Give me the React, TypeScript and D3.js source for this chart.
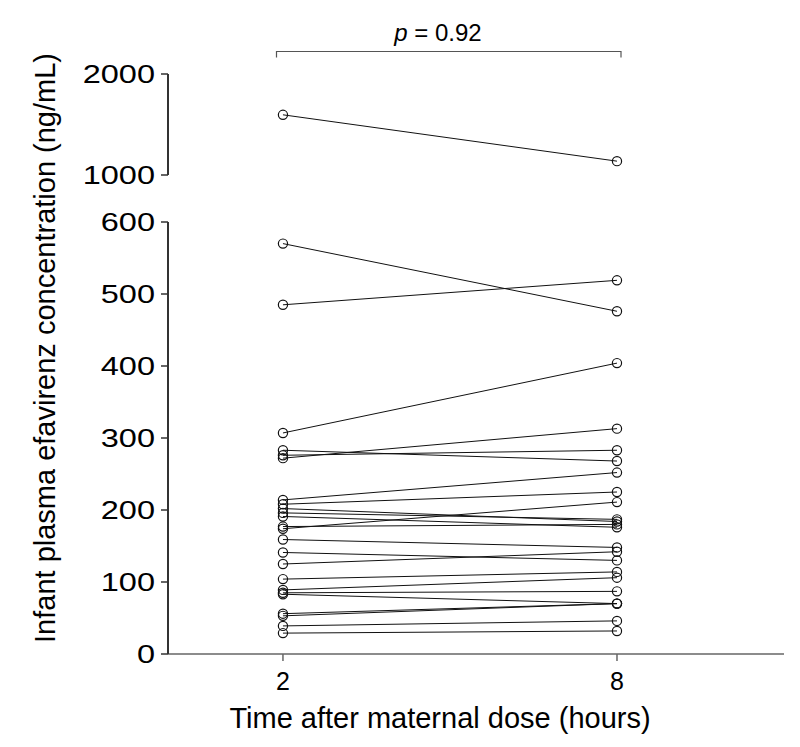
import React, { useRef, useEffect } from 'react';
import * as d3 from 'd3';

// paired infant plasma efavirenz concentrations (ng/mL)
const hours = [2, 8];
const conc2h = [1596, 570, 485, 307, 272, 276, 283, 214, 208, 174, 202, 196, 191, 177, 159, 141, 125, 104, 89, 85, 83, 56, 53, 39, 29];
const conc8h = [1137, 476, 519, 404, 313, 283, 268, 252, 225, 211, 184, 187, 176, 180, 148, 130, 142, 114, 106, 87, 70, 70, 70, 46, 32];
const lowTicks = [0, 100, 200, 300, 400, 500, 600];
const highTicks = [1000, 2000];
const pLabel = '0.92';

const App: React.FC = () => {
  const svgRef = useRef<SVGSVGElement>(null);

  useEffect(() => {
    const svg = d3.select(svgRef.current);
    svg.selectAll('*').remove();

    const font = '"Liberation Sans", Arial, sans-serif';
    const axisX = 168;

    const x = d3.scaleLinear().domain([-0.065, 11]).range([axisX, 784]);
    const yLow = d3.scaleLinear().domain([0, 600]).range([654, 222]);
    const yHigh = d3.scaleLinear().domain([1000, 2000]).range([175, 74]);
    const y = (v: number) => (v >= 1000 ? yHigh(v) : yLow(v));

    // x axis
    svg.append('line')
      .attr('x1', axisX).attr('x2', x(11))
      .attr('y1', yLow(0)).attr('y2', yLow(0))
      .attr('stroke', '#666').attr('stroke-width', 1.5);
    hours.forEach((h) => {
      svg.append('line')
        .attr('x1', x(h)).attr('x2', x(h))
        .attr('y1', yLow(0)).attr('y2', yLow(0) + 7)
        .attr('stroke', '#666').attr('stroke-width', 1.5);
      svg.append('text')
        .attr('x', x(h)).attr('y', yLow(0) + 36)
        .attr('text-anchor', 'middle')
        .attr('font-family', font).attr('font-size', 25)
        .text(h);
    });
    svg.append('text')
      .attr('x', 440).attr('y', 728)
      .attr('text-anchor', 'middle')
      .attr('font-family', font).attr('font-size', 29)
      .text('Time after maternal dose (hours)');

    // broken y axis
    const segs: [d3.ScaleLinear<number, number>, number[]][] = [[yLow, lowTicks], [yHigh, highTicks]];
    segs.forEach(([sc, ticks]) => {
      const [r0, r1] = sc.range();
      svg.append('line')
        .attr('x1', axisX).attr('x2', axisX)
        .attr('y1', r0).attr('y2', r1)
        .attr('stroke', '#333').attr('stroke-width', 2);
      ticks.forEach((t) => {
        svg.append('line')
          .attr('x1', axisX - 7).attr('x2', axisX)
          .attr('y1', sc(t)).attr('y2', sc(t))
          .attr('stroke', '#333').attr('stroke-width', 1.5);
        svg.append('text')
          .attr('transform', `translate(155,${sc(t) + 9}) scale(1.3,1)`)
          .attr('text-anchor', 'end')
          .attr('font-family', font).attr('font-size', 25)
          .text(t);
      });
    });
    svg.append('text')
      .attr('transform', 'translate(55,348) rotate(-90)')
      .attr('text-anchor', 'middle')
      .attr('font-family', font).attr('font-size', 29)
      .text('Infant plasma efavirenz concentration (ng/mL)');

    // paired lines and points
    const line = d3.line<[number, number]>().x((d) => x(d[0])).y((d) => y(d[1]));
    conc2h.forEach((v, i) => {
      svg.append('path')
        .attr('d', line([[hours[0], v], [hours[1], conc8h[i]]]))
        .attr('fill', 'none').attr('stroke', '#111').attr('stroke-width', 1);
    });
    hours.forEach((h, k) => {
      const vals = k === 0 ? conc2h : conc8h;
      svg.append('g').selectAll('circle')
        .data(vals)
        .join('circle')
        .attr('cx', x(h)).attr('cy', (d) => y(d))
        .attr('r', 4.6)
        .attr('fill', 'none').attr('stroke', '#111').attr('stroke-width', 1.2);
    });

    // significance bracket
    const by = 51.5;
    svg.append('path')
      .attr('d', `M276.5,${by + 6}V${by}H621V${by + 6}`)
      .attr('fill', 'none').attr('stroke', '#555').attr('stroke-width', 1.2);
    const pt = svg.append('text')
      .attr('x', 438).attr('y', 41)
      .attr('text-anchor', 'middle')
      .attr('font-family', font).attr('font-size', 24);
    pt.append('tspan').attr('font-style', 'italic').text('p');
    pt.append('tspan').text(` = ${pLabel}`);
  }, []);

  return (
    <svg
      ref={svgRef}
      width={800}
      height={747}
      style={{ position: 'absolute', left: 0, top: 0, background: '#fff' }}
    />
  );
};

export default App;
